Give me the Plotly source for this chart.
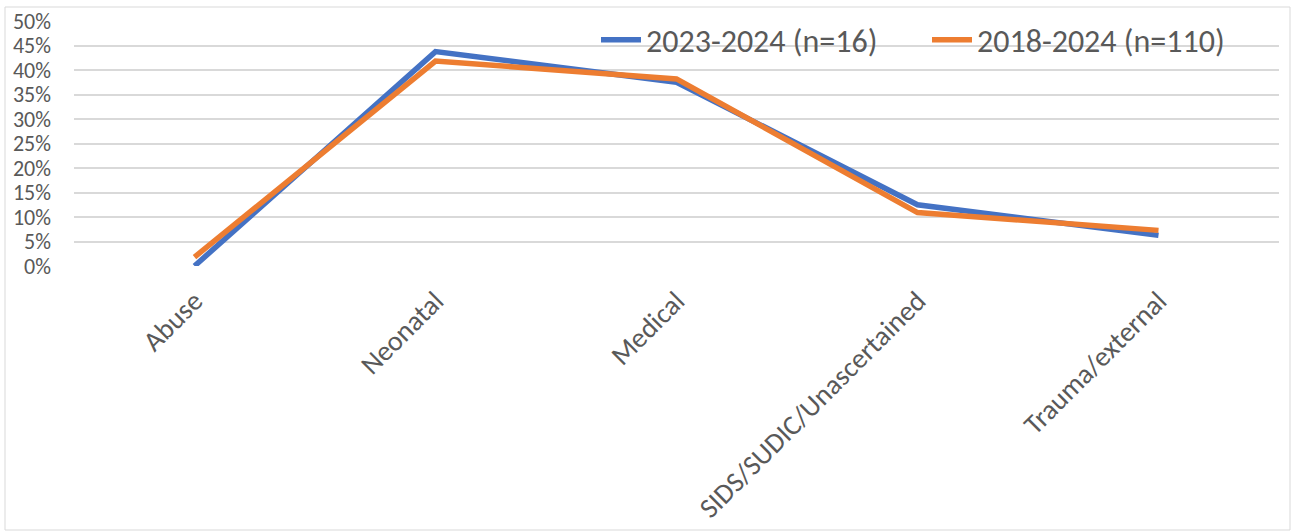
import plotly.graph_objects as go

categories = ["Abuse", "Neonatal", "Medical", "SIDS/SUDIC/Unascertained", "Trauma/external"]
series_names = ["2023-2024 (n=16)", "2018-2024 (n=110)"]
recent_values = [0.0, 0.4375, 0.375, 0.125, 0.0625]
overall_values = [0.0182, 0.4182, 0.3818, 0.1091, 0.0727]
y_ticks = [0, 0.05, 0.10, 0.15, 0.20, 0.25, 0.30, 0.35, 0.40, 0.45, 0.50]
y_tick_labels = ["0%", "5%", "10%", "15%", "20%", "25%", "30%", "35%", "40%", "45%", "50%"]

FONT = "Carlito, Calibri, 'Liberation Sans Narrow', 'Open Sans', sans-serif"
TXT = "#595959"

fig = go.Figure()
fig.add_trace(go.Scatter(x=categories, y=recent_values, name=series_names[0], mode="lines",
                         line=dict(color="#4472C4", width=5.5)))
fig.add_trace(go.Scatter(x=categories, y=overall_values, name=series_names[1], mode="lines",
                         line=dict(color="#ED7D31", width=5.5)))

L, R, T, B = 74, 16, 21, 266
W, H = 1295, 532
pw = W - L - R
ph = H - T - B

fig.update_layout(
    width=W, height=H,
    margin=dict(l=L, r=R, t=T, b=B, pad=0, autoexpand=False),
    paper_bgcolor="white", plot_bgcolor="white",
    font=dict(family=FONT, color=TXT),
    showlegend=True,
    legend=dict(orientation="h", x=(596 - L) / pw, xanchor="left",
                y=(H - B - 40) / ph, yanchor="middle",
                bgcolor="rgba(0,0,0,0)", font=dict(size=32, color=TXT, family=FONT),
                itemwidth=40, tracegroupgap=0, entrywidth=276, entrywidthmode="pixels"),
    xaxis=dict(type="category", range=[-0.5, 4.5], showgrid=False, zeroline=False, showline=False,
               tickangle=-45, tickfont=dict(size=28, color=TXT), ticks="",
               ticklabelstandoff=12, automargin=False),
    yaxis=dict(range=[0, 0.5], tickvals=y_ticks, ticktext=y_tick_labels,
               showgrid=True, gridcolor="#D9D9D9", gridwidth=1.5, zeroline=False,
               showline=False, ticks="", tickfont=dict(size=22, color=TXT),
               ticklabelstandoff=22, automargin=False),
    shapes=[dict(type="rect", xref="paper", yref="paper",
                 x0=(5 - L) / pw, x1=(1290 - L) / pw,
                 y0=(H - B - 530) / ph, y1=(H - B - 7) / ph,
                 line=dict(color="#D9D9D9", width=1), layer="below")],
)

fig.write_html("out.html", config={"displayModeBar": False},
               post_script="document.body.style.margin='0';document.body.style.padding='0';document.documentElement.style.overflow='hidden';")
